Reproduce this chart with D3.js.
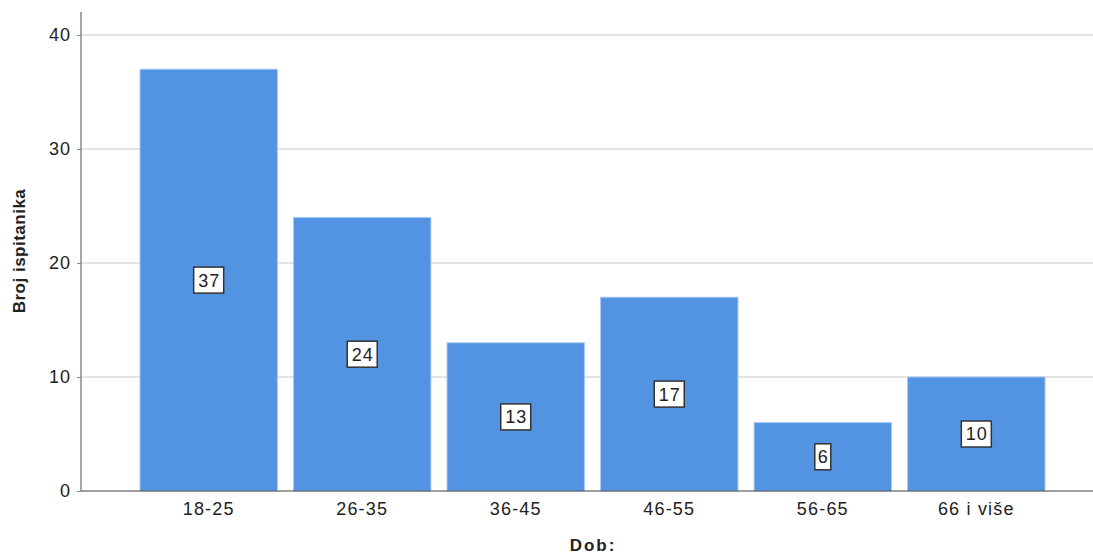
<!DOCTYPE html>
<html>
<head>
    <script src="https://d3js.org/d3.v7.min.js"></script>
    <style>
        body { margin: 0; background: #fff; }
        text { font-family: "Liberation Sans", Arial, sans-serif; fill: #222; }
    </style>
</head>
<body>
    <div id="chart"></div>
    <script>
        const categories = ["18-25", "26-35", "36-45", "46-55", "56-65", "66 i više"];
        const counts = [37, 24, 13, 17, 6, 10];
        const yTicks = [0, 10, 20, 30, 40];

        const W = 1093, H = 554;
        const plotLeft = 81, plotRight = 1093, plotTop = 12, plotBottom = 491;

        const svg = d3.select("#chart").append("svg")
            .attr("width", W).attr("height", H);

        const x = d3.scaleBand().domain(categories)
            .range([132, 1053]).paddingInner(0.105).paddingOuter(0.052);
        const y = d3.scaleLinear().domain([0, 40]).range([plotBottom, 35]);

        // gridlines
        svg.append("g").selectAll("line")
            .data(yTicks.filter(d => d > 0))
            .enter().append("line")
            .attr("x1", plotLeft).attr("x2", plotRight)
            .attr("y1", d => y(d)).attr("y2", d => y(d))
            .attr("stroke", "#c8c8c8").attr("stroke-width", 1);

        // bars
        svg.append("g").selectAll("rect")
            .data(counts)
            .enter().append("rect")
            .attr("x", (d, i) => x(categories[i]))
            .attr("width", x.bandwidth())
            .attr("y", d => y(d))
            .attr("height", d => plotBottom - y(d))
            .attr("fill", "#5294e2")
            .attr("stroke", "#a9c9f0")
            .attr("stroke-width", 1);

        // value labels
        const lab = svg.append("g").selectAll("g")
            .data(counts)
            .enter().append("g")
            .attr("transform", (d, i) => `translate(${x(categories[i]) + x.bandwidth() / 2},${y(d / 2)})`);
        lab.append("rect")
            .attr("x", d => d >= 10 ? -15 : -8)
            .attr("width", d => d >= 10 ? 30 : 16)
            .attr("y", -13).attr("height", 26)
            .attr("fill", "#fff")
            .attr("stroke", "#333").attr("stroke-width", 1.5);
        lab.append("text")
            .attr("text-anchor", "middle")
            .attr("dy", "0.36em")
            .attr("dx", "0.5px")
            .style("font-size", "18px")
            .style("letter-spacing", "1px")
            .text(d => d);

        // axes
        const yAxis = svg.append("g")
            .attr("transform", `translate(${plotLeft},0)`)
            .call(d3.axisLeft(y).tickValues(yTicks).tickSize(4).tickPadding(6));
        yAxis.select(".domain").remove();
        yAxis.selectAll("line").attr("stroke", "#888");
        yAxis.selectAll("text").style("font-size", "18px").style("letter-spacing", "1px").attr("fill", "#222");

        svg.append("line")
            .attr("x1", plotLeft).attr("x2", plotLeft)
            .attr("y1", plotTop).attr("y2", plotBottom)
            .attr("stroke", "#888").attr("stroke-width", 1.5);

        const xAxis = svg.append("g")
            .attr("transform", `translate(0,${plotBottom})`)
            .call(d3.axisBottom(x).tickSize(0).tickPadding(11));
        xAxis.select(".domain").remove();
        xAxis.selectAll("text").style("font-size", "18px").style("letter-spacing", "1.2px").attr("fill", "#222");

        svg.append("line")
            .attr("x1", plotLeft).attr("x2", plotRight)
            .attr("y1", plotBottom).attr("y2", plotBottom)
            .attr("stroke", "#444").attr("stroke-width", 1.2);

        // axis titles
        svg.append("text")
            .attr("transform", `translate(25,251) rotate(-90)`)
            .attr("text-anchor", "middle")
            .style("font-size", "17px").style("font-weight", "bold")
            .style("letter-spacing", "0.5px")
            .text("Broj ispitanika");
        svg.append("text")
            .attr("x", 593).attr("y", 551)
            .attr("text-anchor", "middle")
            .style("font-size", "17px").style("font-weight", "bold")
            .style("letter-spacing", "2px")
            .text("Dob:");
    </script>
</body>
</html>
